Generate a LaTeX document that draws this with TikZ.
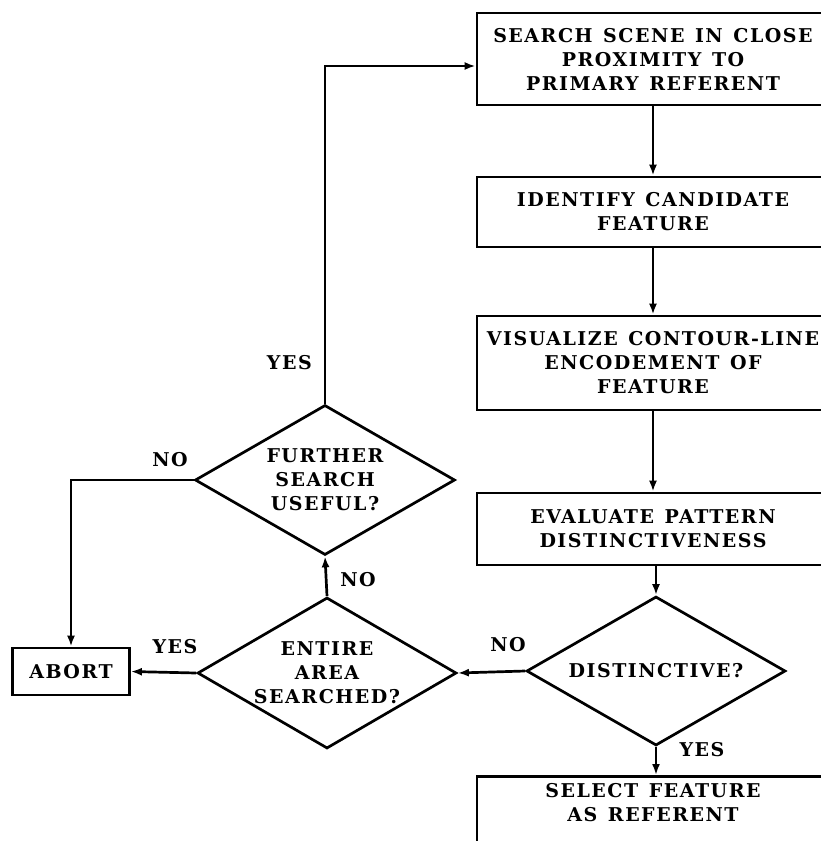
\documentclass[tikz,border=0pt]{standalone}
\usepackage{fontspec}
\usetikzlibrary{shapes.geometric,arrows.meta,calc}
\newfontfamily\chartfont{DejaVu Serif}[LetterSpace=8,WordSpace=1.3]
\begin{document}
\begin{tikzpicture}[x=1pt,y=-1pt,
  font=\chartfont\bfseries\fontsize{19}{24}\selectfont,
  flow/.style={line width=2.7pt},
  arr/.style={flow,-{Latex[length=11pt,width=8pt]}},
  stepbox/.style={draw,line width=2.7pt,rectangle,minimum width=352pt,align=center,inner sep=0pt},
  decision/.style={draw,line width=2.7pt,shape=diamond,inner sep=0pt},
  dtext/.style={align=center,inner sep=0pt},
  tag/.style={inner sep=0pt}]
\useasboundingbox (0,0) rectangle (821,841);
\begin{scope}
\clip (0,0) rectangle (821,841);
% process boxes in the right-hand column
\node[stepbox,minimum height=92pt] (search) at (653,59) {SEARCH SCENE IN CLOSE\\PROXIMITY TO\\PRIMARY REFERENT};
\node[stepbox,minimum height=70pt] (identify) at (653,212) {IDENTIFY CANDIDATE\\FEATURE};
\node[stepbox,minimum height=94pt] (visualize) at (653,363) {VISUALIZE CONTOUR-LINE\\ENCODEMENT OF\\FEATURE};
\node[stepbox,minimum height=72pt] (evaluate) at (653,529) {EVALUATE PATTERN\\DISTINCTIVENESS};
\node[stepbox,minimum height=110pt,anchor=north] (select) at (653,775) {};
\node[dtext] (selecttxt) at (653,803) {SELECT FEATURE\\AS REFERENT};
\end{scope}
% decisions
\node[decision,minimum width=259pt,minimum height=149pt,label={[dtext]center:DISTINCTIVE?}] (distinct) at (656,671) {};
\node[decision,minimum width=259pt,minimum height=151pt,label={[dtext]center:ENTIRE\\AREA\\SEARCHED?}] (entire) at (327,673) {};
\node[decision,minimum width=260pt,minimum height=150pt,label={[dtext]center:FURTHER\\SEARCH\\USEFUL?}] (further) at (325,480) {};
\node[draw,line width=2.7pt,minimum width=117pt,minimum height=47pt,inner sep=0pt] (abort) at (71,671.5) {ABORT};
% connectors
\draw[arr] (search) -- (identify);
\draw[arr] (identify) -- (visualize);
\draw[arr] (visualize) -- (evaluate);
\draw[arr] (evaluate.south -| distinct.north) -- (distinct.north);
\draw[arr] (distinct.south) -- (distinct.south |- select.north);
\draw[arr] (distinct.west) -- (entire.east);
\draw[arr] (entire.west) -- (abort.east);
\draw[arr] (entire.north) -- (further.south);
\draw[arr] (further.west) -| (abort.north);
\draw[arr] (further.north) |- ([yshift=-7pt]search.west);
% branch labels
\node[tag,anchor=east] (yesup) at (312,363) {YES};
\node[tag] (nofurther) at (170,460) {NO};
\node[tag] (noentire) at (358,580) {NO};
\node[tag] (yesentire) at (175,647) {YES};
\node[tag] (nodistinct) at (508,645) {NO};
\node[tag] (yesdistinct) at (702,750) {YES};
\end{tikzpicture}
\end{document}
